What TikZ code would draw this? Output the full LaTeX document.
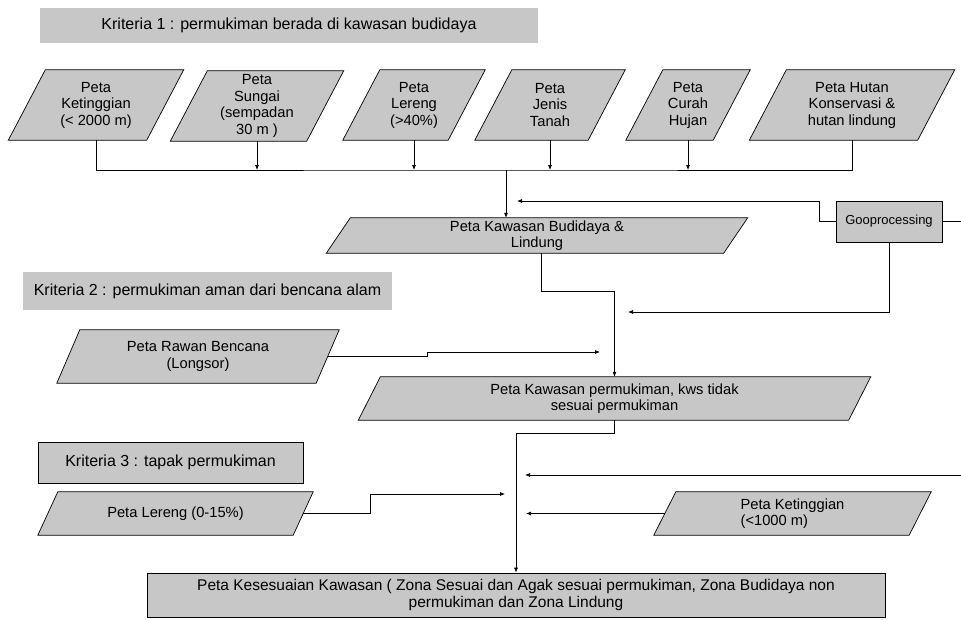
\documentclass[tikz,border=0pt]{standalone}
\usepackage{fontspec}
\setmainfont{Liberation Sans}
\usetikzlibrary{arrows.meta,backgrounds}
\definecolor{shadegray}{gray}{0.78}
\newcommand\drawpara[2]{\draw[parafill] ([xshift=-#2]#1.south west) -- ([xshift=#2]#1.north west) -- ([xshift=#2]#1.north east) -- ([xshift=-#2]#1.south east) -- cycle;}
\begin{document}
\begin{tikzpicture}[x=1pt,y=-1pt,
  font=\fontsize{14.7}{16.5}\selectfont,
  para/.style={inner sep=0pt, align=center},
  parafill/.style={fill=shadegray, draw=black, line width=0.7pt},
  rectbox/.style={fill=shadegray, draw=black, line width=0.7pt, inner sep=0pt, align=center},
  headfont/.style={font=\fontsize{16}{18}\selectfont},
  headbox/.style={fill=shadegray, inner sep=0pt, headfont},
  conn/.style={line width=0.7pt},
  arr/.style={conn, -{Latex[length=5pt,width=4pt]}}
]
\useasboundingbox (0,0) rectangle (961,619);

% headings
\node[headbox, minimum width=498pt, minimum height=35pt] (h1) at (289,25.5) {Kriteria 1 : permukiman berada di kawasan budidaya};
\node[headbox, minimum width=369pt, minimum height=38pt] (h2) at (207.5,291) {Kriteria 2 : permukiman aman dari bencana alam};
\node[rectbox, headfont, minimum width=265pt, minimum height=41pt] (h3) at (170.5,462.5) {Kriteria 3 : tapak permukiman};

% top row
\node[para, minimum width=138pt, minimum height=70pt] (k1) at (96,105) {Peta\\Ketinggian\\(< 2000 m)};
\node[para, minimum width=136pt, minimum height=70pt] (k2) at (257,106) {Peta\\Sungai\\(sempadan\\30 m )};
\node[para, minimum width=105pt, minimum height=70pt] (k3) at (414,105) {Peta\\Lereng\\(>40\%)};
\node[para, minimum width=113pt, minimum height=70pt] (k4) at (550,105) {Peta\\Jenis\\Tanah};
\node[para, minimum width=87pt, minimum height=70pt] (k5) at (688,105) {Peta\\Curah\\Hujan};
\node[para, minimum width=168pt, minimum height=70pt] (k6) at (852,105) {Peta Hutan\\Konservasi \&\\hutan lindung};

\node[para, minimum width=397pt, minimum height=35pt] (bud) at (537,235.5) {Peta Kawasan Budidaya \&\\Lindung};
\node[rectbox, font=\fontsize{13}{15}\selectfont, minimum width=106pt, minimum height=41pt] (geo) at (889,221.5) {Gooprocessing};

\node[para, minimum width=259pt, minimum height=53pt] (rawan) at (198,356.5) {Peta Rawan Bencana\\(Longsor)};
\node[para, minimum width=490pt, minimum height=43pt] (perm) at (614.5,398.5) {Peta Kawasan permukiman, kws tidak\\sesuai permukiman};

\node[para, minimum width=255pt, minimum height=43pt] (ler) at (175.5,513.5) {Peta Lereng (0-15\%)};
\node[para, align=left, minimum width=255pt, minimum height=43pt] (ket) at (792.5,513.5) {Peta Ketinggian\\(<1000 m)};

\node[rectbox, font=\fontsize{15.5}{17}\selectfont, minimum width=738pt, minimum height=44pt] (fin) at (516,595) {Peta Kesesuaian Kawasan ( Zona Sesuai dan Agak sesuai permukiman, Zona Budidaya non\\permukiman dan Zona Lindung};

\begin{scope}[on background layer]
\drawpara{k1}{18.5pt}
\drawpara{k2}{18.5pt}
\drawpara{k3}{18.5pt}
\drawpara{k4}{18.5pt}
\drawpara{k5}{18.5pt}
\drawpara{k6}{18.5pt}
\drawpara{bud}{12pt}
\drawpara{rawan}{11.5pt}
\drawpara{perm}{11pt}
\drawpara{ler}{10pt}
\drawpara{ket}{11pt}
\end{scope}

% coordinates for free ends
\coordinate (bus) at (506,170);
\coordinate (geoin) at (517,201);
\coordinate (geoin2) at (628,312);
\coordinate (edge1) at (961,221.5);
\coordinate (rawin) at (600,352);
\coordinate (lerin) at (505,494);
\coordinate (ketin) at (526,513.5);
\coordinate (edge2) at (961,475);
\coordinate (longin) at (525,475);

% connectors
\draw[conn] (k1.south) |- (bus) -| (k6.south);
\foreach \nm in {k2,k3,k4,k5} \draw[arr] (\nm.south) -- (\nm.south |- bus);
\draw[arr] (bus) -- (bus |- bud.north);
\draw[arr] (geo.west) -- ++(-16,0) |- (geoin);
\draw[conn] (geo.east) -- (edge1);
\draw[arr] (geo.south) |- (geoin2);
\draw[arr] ([xshift=4pt]bud.south) -- ++(0,38.5) -| (perm.north);
\draw[arr] (rawan.east) -- ++(100,0) |- (rawin);
\draw[arr] (perm.south) -- ++(0,13) -| (fin.north);
\draw[arr] (ler.east) -- ++(67,0) |- (lerin);
\draw[arr] (ket.west) -- (ketin);
\draw[arr] (edge2) -- (longin);
\end{tikzpicture}
\end{document}
